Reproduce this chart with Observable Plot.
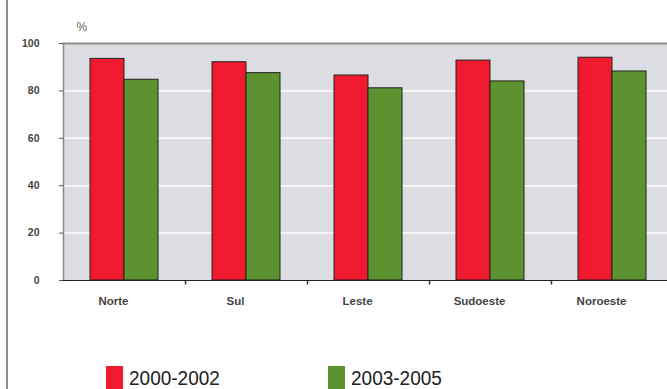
<!DOCTYPE html>
<html>
<head>
<meta charset="utf-8">
<script src="https://cdn.jsdelivr.net/npm/d3@7"></script>
<script src="https://cdn.jsdelivr.net/npm/@observablehq/plot@0.6"></script>
<style>
  html, body { margin: 0; padding: 0; background: #fff; overflow: hidden; }
  #wrap { position: relative; width: 667px; height: 389px; }
  #border { position: absolute; left: 6px; top: 0; width: 2px; height: 389px; background: #8c8c8c; }
  #legend { position: absolute; top: 366px; left: 0; width: 667px; height: 23px; font-family: "Liberation Sans", Arial, sans-serif; }
  .item { position: absolute; display: flex; align-items: flex-start; }
  .sw { width: 17px; height: 23px; margin-right: 6px; }
  .lab { font-size: 19px; color: #222; transform: scaleY(1.08); transform-origin: top left; line-height: 1; margin-top: 2px; }
</style>
</head>
<body>
<div id="wrap">
  <div id="chart"></div>
  <div id="border"></div>
  <div id="legend"></div>
</div>
<script>
const regions = ["Norte", "Sul", "Leste", "Sudoeste", "Noroeste"];
const series = ["2000-2002", "2003-2005"];
const values2000 = [93.5, 92.1, 86.5, 92.8, 94.0];
const values2003 = [84.7, 87.5, 81.1, 84.0, 88.2];
const yTicks = [0, 20, 40, 60, 80, 100];
const colors = ["#ef1a2d", "#5d9230"];
const legendLeft = [106, 328];

const data = [];
regions.forEach((r, i) => {
  data.push({region: r, series: series[0], value: values2000[i]});
  data.push({region: r, series: series[1], value: values2003[i]});
});

const tickSymbol = {draw(ctx) { ctx.moveTo(0, 0); ctx.lineTo(0, 4); }};

const chart = Plot.plot({
  width: 667,
  height: 320,
  marginTop: 43,
  marginBottom: 40,
  marginLeft: 63,
  marginRight: -6,
  style: {fontFamily: "'Liberation Sans', Arial, sans-serif", color: "#333", background: "transparent"},
  fx: {domain: regions, padding: 0, label: null},
  x: {domain: series, paddingInner: 0, paddingOuter: 0.743, axis: null},
  y: {domain: [0, 100], ticks: yTicks, label: null},
  color: {domain: series, range: colors},
  marks: [
    Plot.frame({fill: "#dcdde3", stroke: null, facet: "super"}),
    Plot.gridY(yTicks.filter(t => t > 0 && t < 100), {stroke: "#ffffff", strokeOpacity: 0.9, strokeWidth: 1.5}),
    Plot.ruleY([100], {stroke: "#8a8a8a", strokeWidth: 2}),
    Plot.frame({anchor: "left", stroke: "#8a8a8a", strokeWidth: 1.5, facet: "super"}),
    Plot.barY(data, {fx: "region", x: "series", y: "value", fill: "series", stroke: "#222", strokeWidth: 1}),
    Plot.ruleY([0], {stroke: "#222", strokeWidth: 1.2}),
    Plot.dot(regions.slice(1), {fx: d => d, frameAnchor: "bottom-left", symbol: tickSymbol, stroke: "#333", fill: "none"}),
    Plot.axisY(yTicks, {anchor: "left", tickSize: 4, tickPadding: 20, fontWeight: "bold", fontSize: 10.5, stroke: "#555", fill: "#444"}),
    Plot.axisFx({anchor: "bottom", tickSize: 0, tickPadding: 16, dx: -11, fontWeight: "bold", fontSize: 11.5, fill: "#444", label: null}),
    Plot.text(["%"], {frameAnchor: "top-left", dx: 13, dy: -21, fontSize: 12, fill: "#666666", facet: "super"})
  ]
});
document.getElementById("chart").appendChild(chart);

const legend = document.getElementById("legend");
series.forEach((s, i) => {
  const item = document.createElement("div");
  item.className = "item";
  item.style.left = legendLeft[i] + "px";
  const sw = document.createElement("div");
  sw.className = "sw";
  sw.style.background = colors[i];
  const lab = document.createElement("div");
  lab.className = "lab";
  lab.textContent = s;
  item.appendChild(sw);
  item.appendChild(lab);
  legend.appendChild(item);
});
</script>
</body>
</html>
